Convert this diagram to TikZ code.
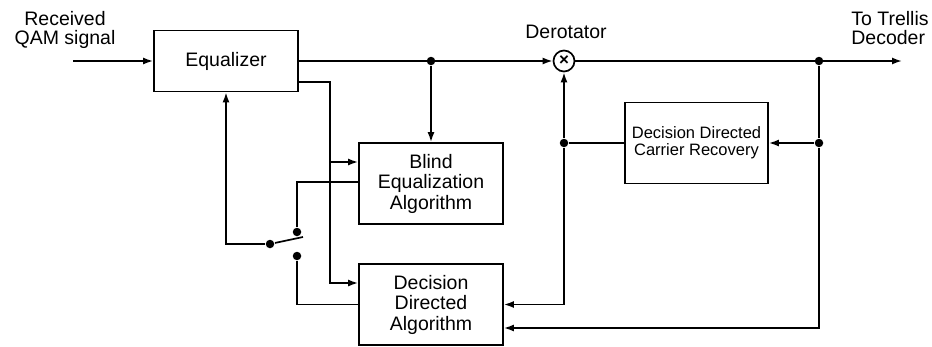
\documentclass[tikz,border=0pt]{standalone}
\usepackage{fontspec}
\setmainfont{Liberation Sans}
\usetikzlibrary{arrows.meta}

\begin{document}
\begin{tikzpicture}[x=1pt, y=-1pt, >={Latex[length=10pt,width=7pt]}, line width=1.7pt,
  block/.style={draw, minimum width=144pt, align=center, font=\fontsize{19.5}{20.5}\selectfont},
  dot/.style={circle, fill, inner sep=0pt, minimum size=8.5pt},
  lbl/.style={font=\fontsize{19.5}{19.5}\selectfont}]
  \useasboundingbox (0,0) rectangle (932,346);

  \node[block, minimum height=61pt] (eq) at (226,61) {Equalizer};
  \node[block, minimum height=81pt] (blind) at (431,183.5) {Blind\\Equalization\\Algorithm};
  \node[block, minimum height=81pt] (dda) at (431,304.5) {Decision\\Directed\\Algorithm};
  \node[block, minimum width=143pt, minimum height=81pt, font=\fontsize{16.5}{17}\selectfont] (ddcr) at (696.5,143) {Decision Directed\\Carrier Recovery};
  \node[draw, circle, minimum size=21pt, inner sep=0pt, font=\bfseries\fontsize{17}{17}\selectfont] (derot) at (564,61) {×};

  \node[lbl, align=center] (rx) at (65,30) {Received\\QAM signal};
  \node[lbl] (derotlbl) at (566,32) {Derotator};
  \node[lbl, align=left] (trellis) at (890,28) {To Trellis\\Decoder};

  \coordinate (in) at (73,61);
  \coordinate (out) at (902,61);
  \coordinate (tap) at (329,162);
  \coordinate (tip) at (303,237);
  \node[dot] (j1) at (431,61) {};
  \node[dot] (j2) at (819,61) {};
  \node[dot] (j3) at (819,143) {};
  \node[dot] (j4) at (564,143) {};
  \node[dot] (pivot) at (270,244) {};
  \node[dot] (up) at (297,232) {};
  \node[dot] (lo) at (297,256) {};

  % main signal path
  \draw[->] (in) -- (eq.west);
  \draw[->] (eq.east) -- (derot.west);
  \draw[->] (derot.east) -- (out);
  \draw[->] (j1) -- (blind.north);

  % equalizer taps to the two algorithms
  \draw[->] ([yshift=-21pt]eq.east) -- ++(31,0) |- ([yshift=21.5pt]dda.west);
  \draw[->] (tap) -- (tap -| blind.west);

  % switch
  \draw (pivot) -- (tip);
  \draw[->] (pivot) -| (eq.south);
  \draw (up) |- ([yshift=1.5pt]blind.west);
  \draw (lo) |- (dda.west);

  % carrier recovery loop
  \draw[->] (j4) -- (derot.south);
  \draw[->] (j4) |- (dda.east);
  \draw (ddcr.west) -- (j4);
  \draw (j2) -- (j3);
  \draw[->] (j3) -- (ddcr.east);
  \draw[->] (j3) |- ([yshift=-23.5pt]dda.east);
\end{tikzpicture}
\end{document}
